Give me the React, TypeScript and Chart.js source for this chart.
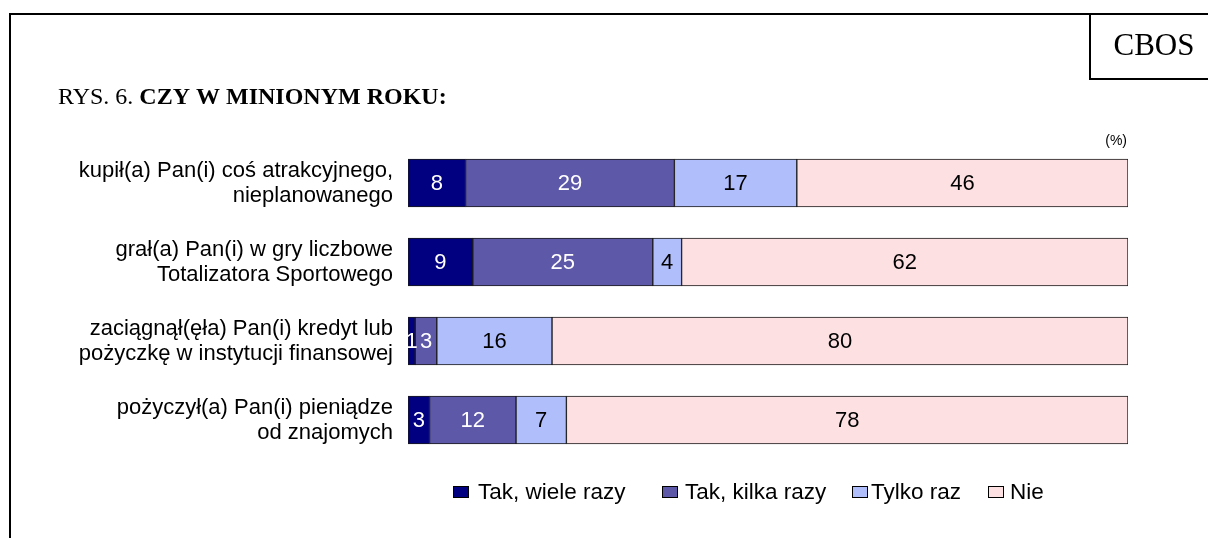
import React, { useEffect, useRef } from "react";
import { Chart, registerables } from "chart.js";

Chart.register(...registerables);

// ---- data ----
const categories: string[][] = [
  ["kupił(a) Pan(i) coś atrakcyjnego,", "nieplanowanego"],
  ["grał(a) Pan(i) w gry liczbowe", "Totalizatora Sportowego"],
  ["zaciągnął(ęła) Pan(i) kredyt lub", "pożyczkę w instytucji finansowej"],
  ["pożyczył(a) Pan(i) pieniądze", "od znajomych"],
];
const seriesNames = ["Tak, wiele razy", "Tak, kilka razy", "Tylko raz", "Nie"];
const takWieleRazy = [8, 9, 1, 3];
const takKilkaRazy = [29, 25, 3, 12];
const tylkoRaz = [17, 4, 16, 7];
const nie = [46, 62, 80, 78];
const titlePrefix = "RYS. 6. ";
const titleBold = "CZY W MINIONYM ROKU:";
const sourceLabel = "CBOS";
const unitLabel = "(%)";

// ---- style ----
const colors = ["#000080", "#5e58a9", "#b1befc", "#fde0e1"];
const valueColors = ["#ffffff", "#ffffff", "#000000", "#000000"];
const SANS = '"Liberation Sans", Arial, sans-serif';
const SERIF = '"Liberation Serif", "Times New Roman", serif';

const W = 1208;
const H = 538;

const overlayPlugin = {
  id: "overlay",
  afterDatasetsDraw(chart: any) {
    const ctx = chart.ctx;
    ctx.save();
    ctx.font = `22px ${SANS}`;
    ctx.textAlign = "center";
    ctx.textBaseline = "middle";
    chart.data.datasets.forEach((ds: any, di: number) => {
      const meta = chart.getDatasetMeta(di);
      meta.data.forEach((bar: any, i: number) => {
        const v = ds.data[i];
        const cx = (bar.x + bar.base) / 2;
        ctx.fillStyle = valueColors[di];
        ctx.fillText(String(v), cx, bar.y + 1);
      });
    });
    ctx.restore();
  },
  afterDraw(chart: any) {
    const ctx = chart.ctx;
    const area = chart.chartArea;
    ctx.save();
    // frame
    ctx.strokeStyle = "#000";
    ctx.lineWidth = 2;
    ctx.beginPath();
    ctx.moveTo(10, H);
    ctx.lineTo(10, 14);
    ctx.lineTo(W, 14);
    ctx.stroke();
    // CBOS box
    ctx.beginPath();
    ctx.moveTo(1090, 14);
    ctx.lineTo(1090, 79);
    ctx.lineTo(W, 79);
    ctx.stroke();
    ctx.fillStyle = "#000";
    ctx.font = `31px ${SERIF}`;
    ctx.textAlign = "center";
    ctx.textBaseline = "middle";
    ctx.fillText(sourceLabel, 1154, 47);

    // title
    ctx.textAlign = "left";
    ctx.font = `24px ${SERIF}`;
    ctx.fillText(titlePrefix, 58, 98);
    const w0 = ctx.measureText(titlePrefix).width;
    ctx.font = `bold 24px ${SERIF}`;
    ctx.fillText(titleBold, 58 + w0, 98);

    // unit
    ctx.font = `14px ${SANS}`;
    ctx.textAlign = "right";
    ctx.fillText(unitLabel, area.right - 1, 141);

    // legend
    const boxXs = [453, 662, 852, 988];
    const textXs = [478, 685, 871, 1010];
    const ly = 492;
    ctx.font = `22.5px ${SANS}`;
    ctx.textAlign = "left";
    chart.data.datasets.forEach((ds: any, di: number) => {
      const x = boxXs[di];
      ctx.fillStyle = ds.backgroundColor;
      ctx.fillRect(x, ly - 6, 16, 12);
      ctx.lineWidth = 1;
      ctx.strokeStyle = "#000";
      ctx.strokeRect(x + 0.5, ly - 5.5, 15, 11);
      ctx.fillStyle = "#000";
      ctx.fillText(ds.label, textXs[di], ly + 1);
    });
    ctx.restore();
  },
};

export default function App() {
  const ref = useRef<HTMLCanvasElement | null>(null);

  useEffect(() => {
    if (!ref.current) return;
    const series = [takWieleRazy, takKilkaRazy, tylkoRaz, nie];
    const chart = new Chart(ref.current, {
      type: "bar",
      data: {
        labels: categories,
        datasets: series.map((d, i) => ({
          label: seriesNames[i],
          data: d,
          backgroundColor: colors[i],
          borderColor: "#1a1a1a",
          borderWidth: 1,
          borderSkipped: false,
          barThickness: 48,
        })),
      },
      options: {
        indexAxis: "y",
        responsive: false,
        animation: false,
        devicePixelRatio: 1,
        layout: { padding: { left: 0, right: 80, top: 143.5, bottom: 78.5 } },
        plugins: {
          legend: { display: false },
          tooltip: { enabled: false },
          title: { display: false },
        },
        scales: {
          x: {
            stacked: true,
            min: 0,
            max: 100,
            display: false,
          },
          y: {
            stacked: true,
            grid: { display: false, drawTicks: false, tickLength: 0 },
            border: { display: false },
            ticks: {
              color: "#000",
              padding: 15,
              font: { family: SANS, size: 22, lineHeight: 1.14 },
            },
            afterFit(scale: any) {
              scale.width = 408;
            },
          },
        },
      } as any,
      plugins: [overlayPlugin],
    });
    return () => chart.destroy();
  }, []);

  return (
    <div style={{ position: "absolute", left: 0, top: 0, width: W, height: H, background: "#fff" }}>
      <canvas ref={ref} width={W} height={H} style={{ display: "block", width: W, height: H }} />
    </div>
  );
}
